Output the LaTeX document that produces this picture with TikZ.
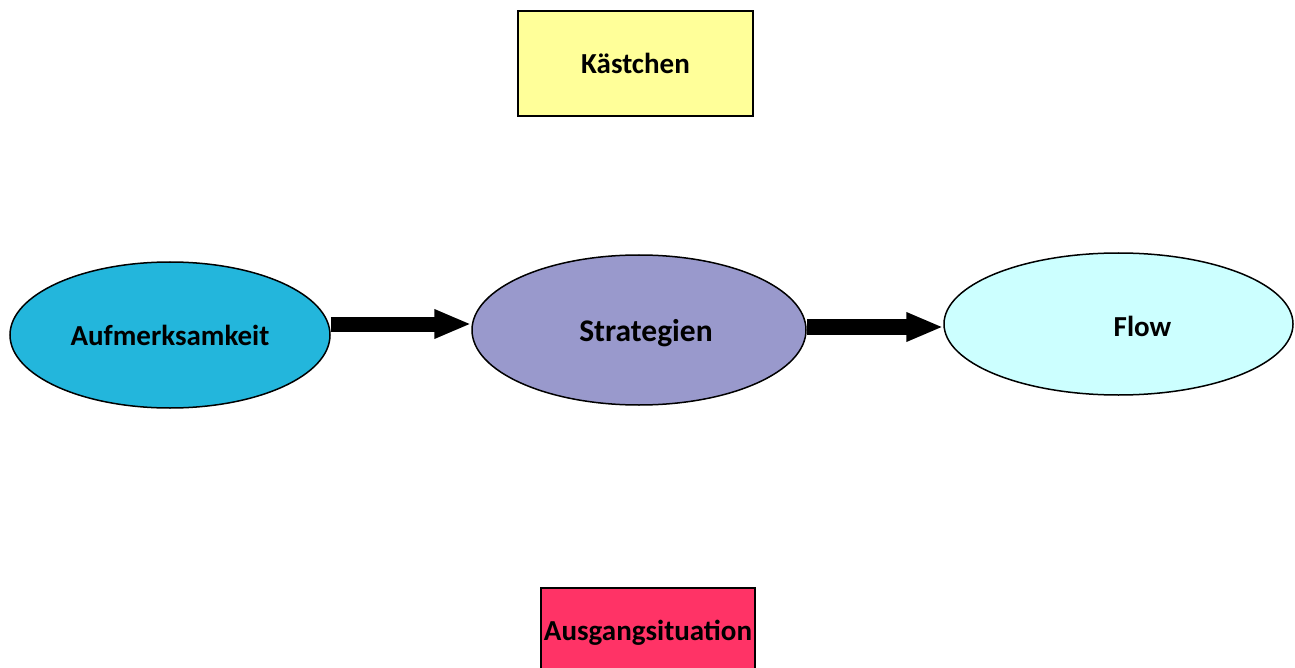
\documentclass[tikz,border=0pt]{standalone}
\usepackage{fontspec}
\setmainfont{Carlito}
\usetikzlibrary{shapes.geometric,arrows.meta}
\definecolor{kaestchenyellow}{HTML}{FFFF99}
\definecolor{aufblue}{HTML}{23B6DC}
\definecolor{stratlilac}{HTML}{9999CC}
\definecolor{flowcyan}{HTML}{CCFFFF}
\definecolor{ausgangred}{HTML}{FF3366}
\tikzset{
  txt/.style={font=\fontsize{29}{34}\selectfont\bfseries},
  bigtxt/.style={font=\fontsize{31.5}{37}\selectfont\bfseries},
  box/.style={rectangle, draw, line width=1.5pt, inner sep=0pt, txt},
  blob/.style={ellipse, draw, line width=1.5pt, inner sep=0pt, txt},
  bigarrow/.style={line width=15pt, -{Triangle[length=37pt,width=27pt]}}
}

\begin{document}
\begin{tikzpicture}[x=1pt,y=-1pt]
  \useasboundingbox (0,0) rectangle (1295,668);

  \node[box, fill=kaestchenyellow, minimum width=235pt, minimum height=105pt]
    (kaestchen) at (635.5,63.5) {Kästchen};

  \node[blob, fill=aufblue, minimum width=320pt, minimum height=146pt]
    (auf) at (170,335) {Aufmerksamkeit};
  \node[blob, fill=stratlilac, minimum width=334pt, minimum height=150pt,
    label={[bigtxt, xshift=7pt, yshift=-3pt]center:Strategien}]
    (strat) at (639,330) {};
  \node[blob, fill=flowcyan, minimum width=349pt, minimum height=142pt,
    label={[txt, xshift=24pt, yshift=-2pt]center:Flow}]
    (flow) at (1118.5,324) {};

  \node[box, fill=ausgangred, minimum width=214pt, minimum height=110pt,
    label={[txt, yshift=10pt]center:Ausgangsituation}]
    (ausgang) at (648,643) {};

  \draw[bigarrow] (auf.east |- 0,324) -- (strat.west |- 0,324);
  \draw[bigarrow, line width=16pt] (strat.east |- 0,327) -- (flow.west |- 0,327);
\end{tikzpicture}
\end{document}
